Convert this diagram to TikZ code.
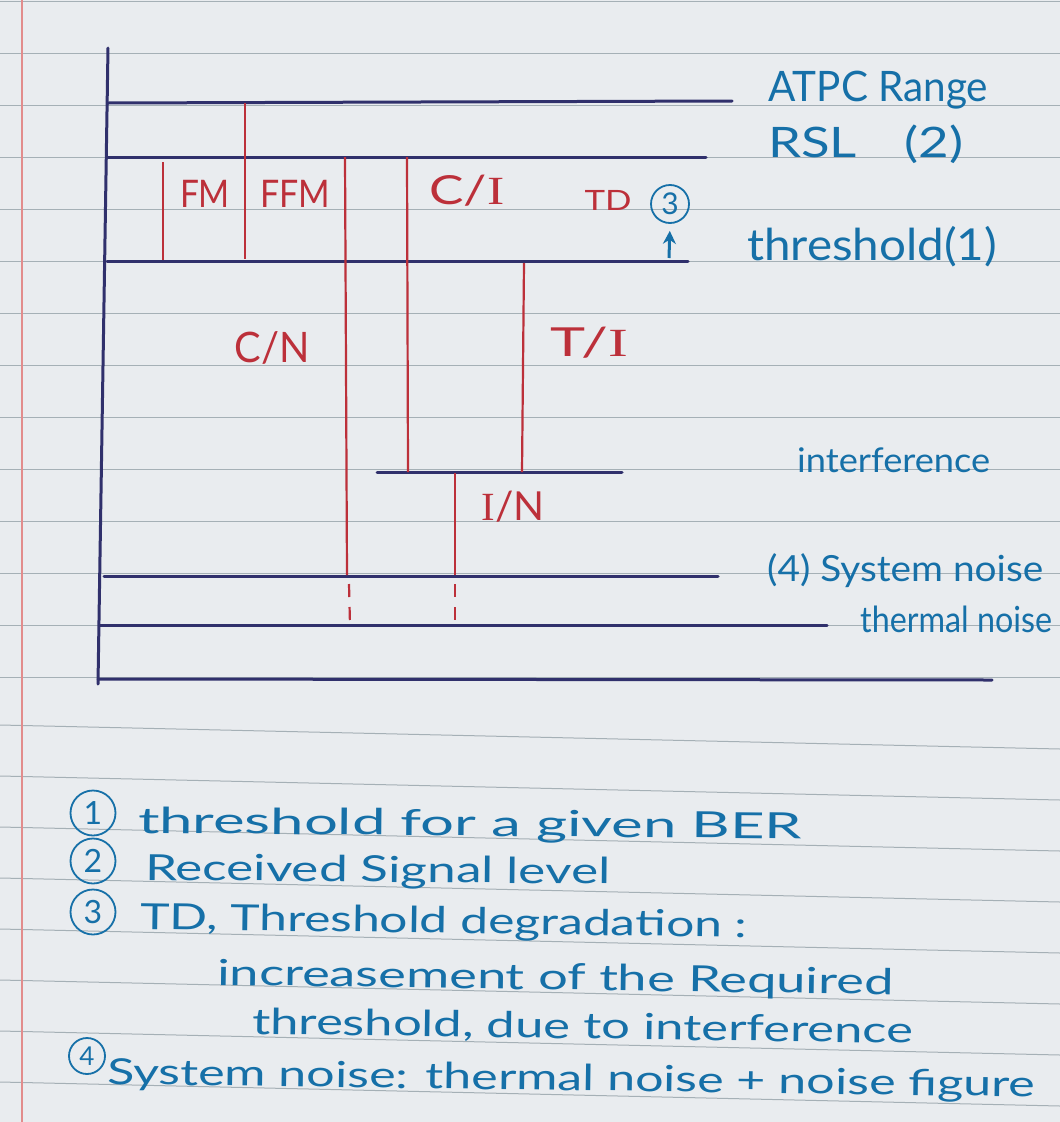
\documentclass[tikz,border=0pt]{standalone}
\usepackage{fontspec}
\setmainfont{Lato}
\newfontfamily\barI{Liberation Serif}
\usepackage{graphicx}
\usetikzlibrary{arrows.meta}
\definecolor{paper}{RGB}{233,236,239}
\definecolor{ruling}{RGB}{165,176,182}
\definecolor{marginred}{RGB}{226,140,140}
\definecolor{navy}{RGB}{48,48,108}
\definecolor{ink}{RGB}{22,112,168}
\definecolor{redink}{RGB}{188,48,58}
\newcommand{\fitw}[2]{\resizebox{#1}{\height}{#2}}
\begin{document}
\begin{tikzpicture}[x=1pt,y=-1pt,
  level/.style={draw=navy,line width=3pt,line cap=round},
  meas/.style={draw=redink,line width=2.2pt},
  measdash/.style={draw=redink,line width=2.2pt,dash pattern=on 13pt off 10pt},
  bluelab/.style={text=ink,inner sep=0pt,anchor=base west},
  redlab/.style={text=redink,inner sep=0pt,anchor=center},
  note/.style={text=ink,inner sep=0pt,anchor=base west,font=\fontsize{36}{40}\selectfont},
  num/.style={circle,draw=ink,line width=1.8pt,text=ink,inner sep=0pt,minimum size=45pt,font=\fontsize{32}{34}\selectfont}]
\useasboundingbox (0,0) rectangle (1060,1122);
% paper
\fill[paper] (0,0) rectangle (1060,1122);
\foreach \yy in {1,53,...,677} \draw[ruling,line width=1pt] (0,\yy) -- (1060,\yy);
\foreach \yy in {725,776,...,1082} \draw[ruling,line width=1pt] (0,\yy) -- (1060,\yy+24);
\draw[marginred,line width=1.5pt] (22,0) -- (22,1122);

% level lines (navy)
\coordinate (axT) at (108,48);   \coordinate (axB) at (98,684);
\coordinate (atpcL) at (108,103); \coordinate (atpcR) at (732,101);
\coordinate (rslL) at (108,157);  \coordinate (rslR) at (706,157);
\coordinate (thrL) at (107,261);  \coordinate (thrR) at (688,261);
\coordinate (intL) at (377,472);  \coordinate (intR) at (622,472);
\coordinate (sysL) at (104,576);  \coordinate (sysR) at (718,576);
\coordinate (thmL) at (100,625);  \coordinate (thmR) at (827,625);
\coordinate (botL) at (98,679);   \coordinate (botR) at (992,680);
\draw[level] (axT) -- (axB);
\draw[level] (atpcL) -- (atpcR);
\draw[level] (rslL) -- (rslR);
\draw[level] (thrL) -- (thrR);
\draw[level] (intL) -- (intR);
\draw[level] (sysL) -- (sysR);
\draw[level] (thmL) -- (thmR);
\draw[level] (botL) -- (botR);

% measurement lines (red)
\coordinate (fmT) at (163,162);  \coordinate (fmB) at (163,260);
\coordinate (ffT) at (245,103);  \coordinate (ffB) at (245,259);
\coordinate (cnT) at (345,157);  \coordinate (cnB) at (347,575);
\coordinate (cnD1) at (349,584); \coordinate (cnD2) at (350,625);
\coordinate (ciT) at (407,157);  \coordinate (ciB) at (408,472);
\coordinate (tiT) at (524,263);  \coordinate (tiB) at (522,472);
\coordinate (inT) at (455,473);  \coordinate (inB) at (455,575);
\coordinate (inD1) at (455,584); \coordinate (inD2) at (455,625);
\draw[meas] (fmT) -- (fmB);
\draw[meas] (ffT) -- (ffB);
\draw[meas] (cnT) -- (cnB);
\draw[measdash] (cnD1) -- (cnD2);
\draw[meas] (ciT) -- (ciB);
\draw[meas] (tiT) -- (tiB);
\draw[meas] (inT) -- (inB);
\draw[measdash] (inD1) -- (inD2);

% red labels
\node[redlab,font=\fontsize{38}{40}\selectfont] (fm) at (205,194) {\fitw{50pt}{FM}};
\node[redlab,font=\fontsize{38}{40}\selectfont] (ffm) at (295,194) {\fitw{70pt}{FFM}};
\node[redlab,font=\fontsize{40}{42}\selectfont] (ci) at (467,191) {\fitw{75pt}{C/{\barI I}}};
\node[redlab,font=\fontsize{28}{30}\selectfont] (td) at (608,200) {\fitw{47pt}{TD}};
\node[redlab,font=\fontsize{42}{44}\selectfont] (cn) at (272,348) {\fitw{75pt}{C/N}};
\node[redlab,font=\fontsize{40}{42}\selectfont] (ti) at (589,343) {\fitw{78pt}{T/{\barI I}}};
\node[redlab,font=\fontsize{40}{42}\selectfont] (in) at (513,507) {\fitw{63pt}{{\barI I}/N}};

% TD marker
\node[num,minimum size=38pt,font=\fontsize{30}{32}\selectfont] (c3) at (670,204) {3};
\coordinate (tdfoot) at (669,258);
\draw[ink,line width=3pt,-{Stealth[length=13pt,width=13pt]},shorten >=7pt] (tdfoot) -- (c3.south);

% blue labels on the right
\node[bluelab,font=\fontsize{42}{46}\selectfont] (atpc) at (768,101) {\fitw{220pt}{ATPC Range}};
\node[bluelab,font=\fontsize{42}{46}\selectfont] (rsl) at (768,157) {\fitw{195pt}{RSL\hspace{0.9em}(2)}};
\node[bluelab,font=\fontsize{44}{48}\selectfont] (thr) at (747,260) {\fitw{250pt}{threshold(1)}};
\node[bluelab,font=\fontsize{34}{38}\selectfont] (intf) at (797,472) {\fitw{193pt}{interference}};
\node[bluelab,font=\fontsize{36}{40}\selectfont] (sysn) at (767,581) {\fitw{276pt}{(4) System noise}};
\node[bluelab,font=\fontsize{36}{40}\selectfont] (thmn) at (860,632) {\fitw{192pt}{thermal noise}};

% notes
\node[num] (n1) at (93,813) {1};
\node[note,rotate=-0.5] (t1) at (138,833) {\fitw{664pt}{threshold for a given BER}};
\node[num] (n2) at (93,861) {2};
\node[note,rotate=-0.5] (t2) at (145,880) {\fitw{465pt}{Received Signal level}};
\node[num] (n3) at (93,912) {3};
\node[note,rotate=-0.8] (t3) at (140,929) {\fitw{607pt}{TD, Threshold degradation :}};
\node[note,rotate=-0.8] (t4) at (217,985) {\fitw{676pt}{increasement of the Required}};
\node[note,rotate=-0.8] (t5) at (252,1034) {\fitw{661pt}{threshold, due to interference}};
\node[num,minimum size=36pt,font=\fontsize{26}{28}\selectfont] (n4) at (87,1056) {4};
\node[note,rotate=-0.8] (t6) at (107,1084) {\fitw{928pt}{System noise: thermal noise + noise figure}};
\end{tikzpicture}
\end{document}
